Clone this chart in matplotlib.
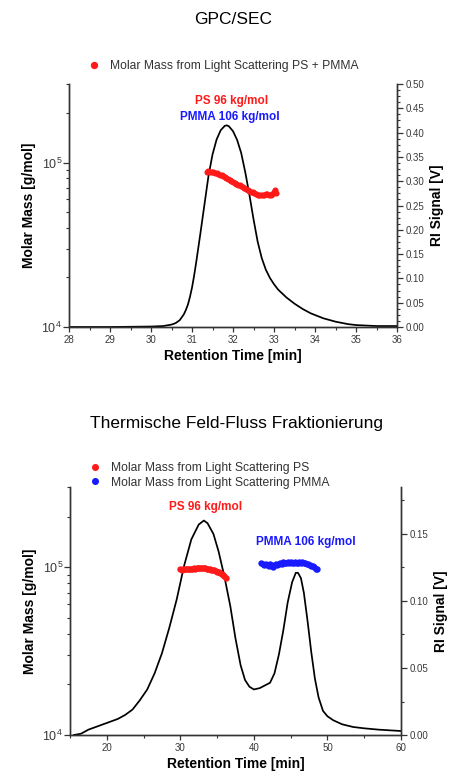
import numpy as np
import matplotlib
matplotlib.use("Agg")
import matplotlib.pyplot as plt
from matplotlib.ticker import MultipleLocator, LogLocator, NullFormatter, FixedLocator, FixedFormatter

plt.rcParams['font.family'] = ['Liberation Sans', 'DejaVu Sans']
plt.rcParams['mathtext.fontset'] = 'custom'
plt.rcParams['mathtext.rm'] = 'Liberation Sans'

# ---- GPC/SEC: RI trace ----
gpc_time = [28.0, 29.0, 29.5, 30.0, 30.3, 30.5, 30.6, 30.7, 30.8, 30.85, 30.9, 30.95, 31.0, 31.05,
            31.1, 31.2, 31.3, 31.4, 31.5, 31.6, 31.7, 31.8, 31.85, 31.9, 32.0, 32.1, 32.2, 32.3,
            32.4, 32.5, 32.6, 32.7, 32.8, 32.9, 33.0, 33.1, 33.3, 33.5, 33.7, 33.9, 34.2, 34.5,
            34.8, 35.0, 35.5, 36.0]
gpc_ri = [0.0, 0.0, 0.0005, 0.001, 0.002, 0.005, 0.008, 0.014, 0.026, 0.035, 0.046, 0.062, 0.081, 0.105,
          0.132, 0.19, 0.25, 0.31, 0.355, 0.386, 0.405, 0.414, 0.415, 0.413, 0.403, 0.385, 0.358, 0.318,
          0.272, 0.222, 0.176, 0.142, 0.118, 0.101, 0.088, 0.077, 0.061, 0.048, 0.037, 0.028, 0.018, 0.011,
          0.006, 0.004, 0.002, 0.002]

# ---- GPC/SEC: molar mass from light scattering (PS + PMMA) ----
gpc_ls_time = [31.36, 31.40, 31.44, 31.48, 31.52, 31.56, 31.60, 31.64, 31.68, 31.72, 31.76, 31.80,
               31.84, 31.88, 31.92, 31.96, 32.00, 32.04, 32.08, 32.12, 32.16, 32.20, 32.24, 32.28,
               32.32, 32.36, 32.40, 32.44, 32.48, 32.52, 32.56, 32.60, 32.64, 32.68, 32.72, 32.76,
               32.80, 32.84, 32.88, 32.92, 32.96, 33.00, 33.02, 33.04]
gpc_ls_mass = [88000, 88200, 87800, 87500, 87000, 86500, 86000, 85200, 84400, 83600, 82800, 81800,
               80700, 79600, 78500, 77400, 76400, 75300, 74200, 73400, 72500, 71600, 70800, 70000,
               69000, 68200, 67300, 66600, 66000, 65200, 64200, 63600, 63300, 63500, 63800, 63400,
               64000, 64800, 63600, 63900, 64500, 66500, 68500, 65000]

# ---- ThFFF: RI trace ----
fff_time = [15.5, 16.0, 16.5, 17.5, 18.5, 19.5, 20.5, 21.5, 22.5, 23.5, 24.5, 25.5, 26.5, 27.5,
            28.5, 29.5, 30.5, 31.5, 32.5, 33.2, 33.7, 34.5, 35.2, 36.0, 36.8, 37.5, 38.2, 38.8,
            39.4, 40.0, 40.8, 41.5, 42.2, 42.8, 43.4, 44.0, 44.6, 45.2, 45.7, 46.0, 46.4, 46.8,
            47.3, 47.8, 48.3, 48.8, 49.4, 50.0, 50.8, 52.0, 53.5, 55.0, 57.0, 60.0]
fff_ri = [0.0, 0.0005, 0.001, 0.004, 0.006, 0.008, 0.010, 0.012, 0.015, 0.019, 0.026, 0.034, 0.046, 0.061,
          0.080, 0.101, 0.126, 0.146, 0.157, 0.160, 0.158, 0.150, 0.137, 0.118, 0.096, 0.072, 0.052, 0.041,
          0.036, 0.034, 0.035, 0.037, 0.039, 0.046, 0.060, 0.078, 0.099, 0.114, 0.121, 0.121, 0.117, 0.106,
          0.085, 0.062, 0.042, 0.028, 0.018, 0.014, 0.011, 0.008, 0.006, 0.005, 0.004, 0.003]

# ---- ThFFF: molar mass PS ----
fff_ps_time = [30.0, 30.2, 30.4, 30.6, 30.8, 31.0, 31.2, 31.4, 31.6, 31.8, 32.0, 32.2, 32.4, 32.6,
               32.8, 33.0, 33.2, 33.4, 33.6, 33.8, 34.0, 34.2, 34.4, 34.6, 34.8, 35.0, 35.2, 35.4,
               35.6, 35.8, 36.0, 36.2]
fff_ps_mass = [97000, 96500, 97500, 97000, 97300, 97500, 97800, 97600, 98000, 98200, 98000, 98400,
               98600, 98800, 99000, 98700, 98500, 98300, 98000, 97600, 97000, 96700, 96200, 95500,
               94500, 94000, 93000, 92000, 91000, 90000, 88000, 86000]

# ---- ThFFF: molar mass PMMA ----
fff_pmma_time = [41.0, 41.2, 41.4, 41.6, 41.8, 42.0, 42.2, 42.4, 42.6, 42.8, 43.0, 43.2, 43.4, 43.6,
                 43.8, 44.0, 44.2, 44.4, 44.6, 44.8, 45.0, 45.2, 45.4, 45.6, 45.8, 46.0, 46.2, 46.4,
                 46.6, 46.8, 47.0, 47.2, 47.4, 47.6, 47.8, 48.0, 48.2, 48.4, 48.6]
fff_pmma_mass = [106000, 104000, 102500, 104500, 103000, 101500, 104000, 102000, 100500, 103000,
                 104500, 103500, 105000, 106500, 105000, 107500, 106000, 105500, 107000, 106000,
                 106800, 105500, 106500, 107000, 105800, 106500, 107200, 106000, 106800, 105500,
                 106200, 105000, 104500, 103500, 102000, 101000, 99500, 98000, 97000]

PS_RED = '#ff1a1a'
PMMA_BLUE = '#1a1aff'
SPINE = '#333333'
TICKTXT = '#3a3a3a'


def style_axes(ax_m, ax_ri):
    for a in (ax_m, ax_ri):
        a.spines['top'].set_visible(False)
        for s in ('left', 'right', 'bottom'):
            a.spines[s].set_color(SPINE)
            a.spines[s].set_linewidth(1.0)
    ax_m.set_yscale('log')
    ax_m.set_ylim(1e4, 3e5)
    ax_m.yaxis.set_major_locator(FixedLocator([1e4, 1e5]))
    ax_m.yaxis.set_major_formatter(FixedFormatter([r'$10^4$', r'$10^5$']))
    ax_m.yaxis.set_minor_locator(LogLocator(base=10, subs=np.arange(2, 10), numticks=20))
    ax_m.yaxis.set_minor_formatter(NullFormatter())
    ax_m.tick_params(axis='y', which='major', direction='out', length=4, width=0.9, colors=SPINE,
                     labelcolor=TICKTXT, labelsize=9, pad=1)
    ax_m.tick_params(axis='y', which='minor', direction='out', length=2.5, width=0.8, colors=SPINE)
    ax_m.tick_params(axis='x', which='major', direction='out', length=3.5, width=0.9, colors=SPINE,
                     labelcolor=TICKTXT, labelsize=7, pad=2)
    ax_m.tick_params(axis='x', which='minor', direction='out', length=2, width=0.8, colors=SPINE)
    ax_ri.tick_params(axis='y', which='major', direction='out', length=4, width=0.9, colors=SPINE,
                      labelcolor=TICKTXT, labelsize=7, pad=2)
    ax_ri.tick_params(axis='y', which='minor', direction='out', length=2.5, width=0.8, colors=SPINE)
    ax_m.set_xlabel('Retention Time [min]', fontsize=10, fontweight='bold', labelpad=3)
    ax_m.set_ylabel('Molar Mass [g/mol]', fontsize=10, fontweight='bold', labelpad=4)
    ax_ri.set_ylabel('RI Signal [V]', fontsize=10, fontweight='bold', labelpad=4)
    ax_m.set_zorder(ax_ri.get_zorder() + 1)
    ax_m.patch.set_visible(False)


fig = plt.figure(figsize=(4.54, 7.76), dpi=100)

# ===== top: GPC/SEC =====
ax1 = fig.add_axes([0.152, 0.5786, 0.7225, 0.3131])
ax1r = ax1.twinx()
ax1r.plot(gpc_time, gpc_ri, color='black', lw=1.25)
ax1.plot(gpc_ls_time, gpc_ls_mass, 'o', color=PS_RED, ms=4.4, mec='none',
         label='Molar Mass from Light Scattering PS + PMMA')
ax1.set_xlim(28, 36)
ax1r.set_ylim(0, 0.5)
ax1.xaxis.set_major_locator(MultipleLocator(1))
ax1.xaxis.set_minor_locator(MultipleLocator(0.5))
ax1r.yaxis.set_major_locator(MultipleLocator(0.05))
ax1r.yaxis.set_minor_locator(MultipleLocator(0.0125))
ax1r.yaxis.set_major_formatter(matplotlib.ticker.FormatStrFormatter('%.2f'))
style_axes(ax1, ax1r)
ax1r.text(31.96, 0.465, 'PS 96 kg/mol', color=PS_RED, fontsize=8.5, fontweight='bold',
          ha='center', va='center')
ax1r.text(31.93, 0.433, 'PMMA 106 kg/mol', color=PMMA_BLUE, fontsize=8.5, fontweight='bold',
          ha='center', va='center')
ax1.legend(loc='center left', bbox_to_anchor=(87.5 / 454, 1 - 66 / 776), bbox_transform=fig.transFigure,
           frameon=False, fontsize=8.7, handlelength=1.0, handletextpad=0.85, borderpad=0,
           borderaxespad=0, markerscale=1.2, labelcolor='#333333')
fig.text(0.513, 1 - 19.5 / 776, 'GPC/SEC', ha='center', va='center', fontsize=12.5)

# ===== bottom: ThFFF =====
ax2 = fig.add_axes([0.1542, 0.0528, 0.729, 0.3196])
ax2r = ax2.twinx()
ax2r.plot(fff_time, fff_ri, color='black', lw=1.25)
ax2.plot(fff_ps_time, fff_ps_mass, 'o', color=PS_RED, ms=4.6, mec='none',
         label='Molar Mass from Light Scattering PS')
ax2.plot(fff_pmma_time, fff_pmma_mass, 'o', color=PMMA_BLUE, ms=4.6, mec='none',
         label='Molar Mass from Light Scattering PMMA')
ax2.set_xlim(15, 60)
ax2r.set_ylim(0, 0.185)
ax2.xaxis.set_major_locator(MultipleLocator(10))
ax2.xaxis.set_minor_locator(MultipleLocator(5))
ax2r.yaxis.set_major_locator(MultipleLocator(0.05))
ax2r.yaxis.set_minor_locator(MultipleLocator(0.025))
ax2r.yaxis.set_major_formatter(matplotlib.ticker.FormatStrFormatter('%.2f'))
style_axes(ax2, ax2r)
ax2r.text(33.46, 0.1704, 'PS 96 kg/mol', color=PS_RED, fontsize=8.5, fontweight='bold',
          ha='center', va='center')
ax2r.text(47.1, 0.1443, 'PMMA 106 kg/mol', color=PMMA_BLUE, fontsize=8.5, fontweight='bold',
          ha='center', va='center')
ax2.legend(loc='center left', bbox_to_anchor=(89 / 454, 1 - 475.5 / 776), bbox_transform=fig.transFigure,
           frameon=False, fontsize=8.7, handlelength=1.0, handletextpad=0.85, borderpad=0,
           borderaxespad=0, labelspacing=0.2, markerscale=1.1, labelcolor='#333333')
fig.text(0.521, 1 - 424 / 776, 'Thermische Feld-Fluss Fraktionierung', ha='center', va='center',
         fontsize=12.5)

fig.savefig('out.png', dpi=100)
